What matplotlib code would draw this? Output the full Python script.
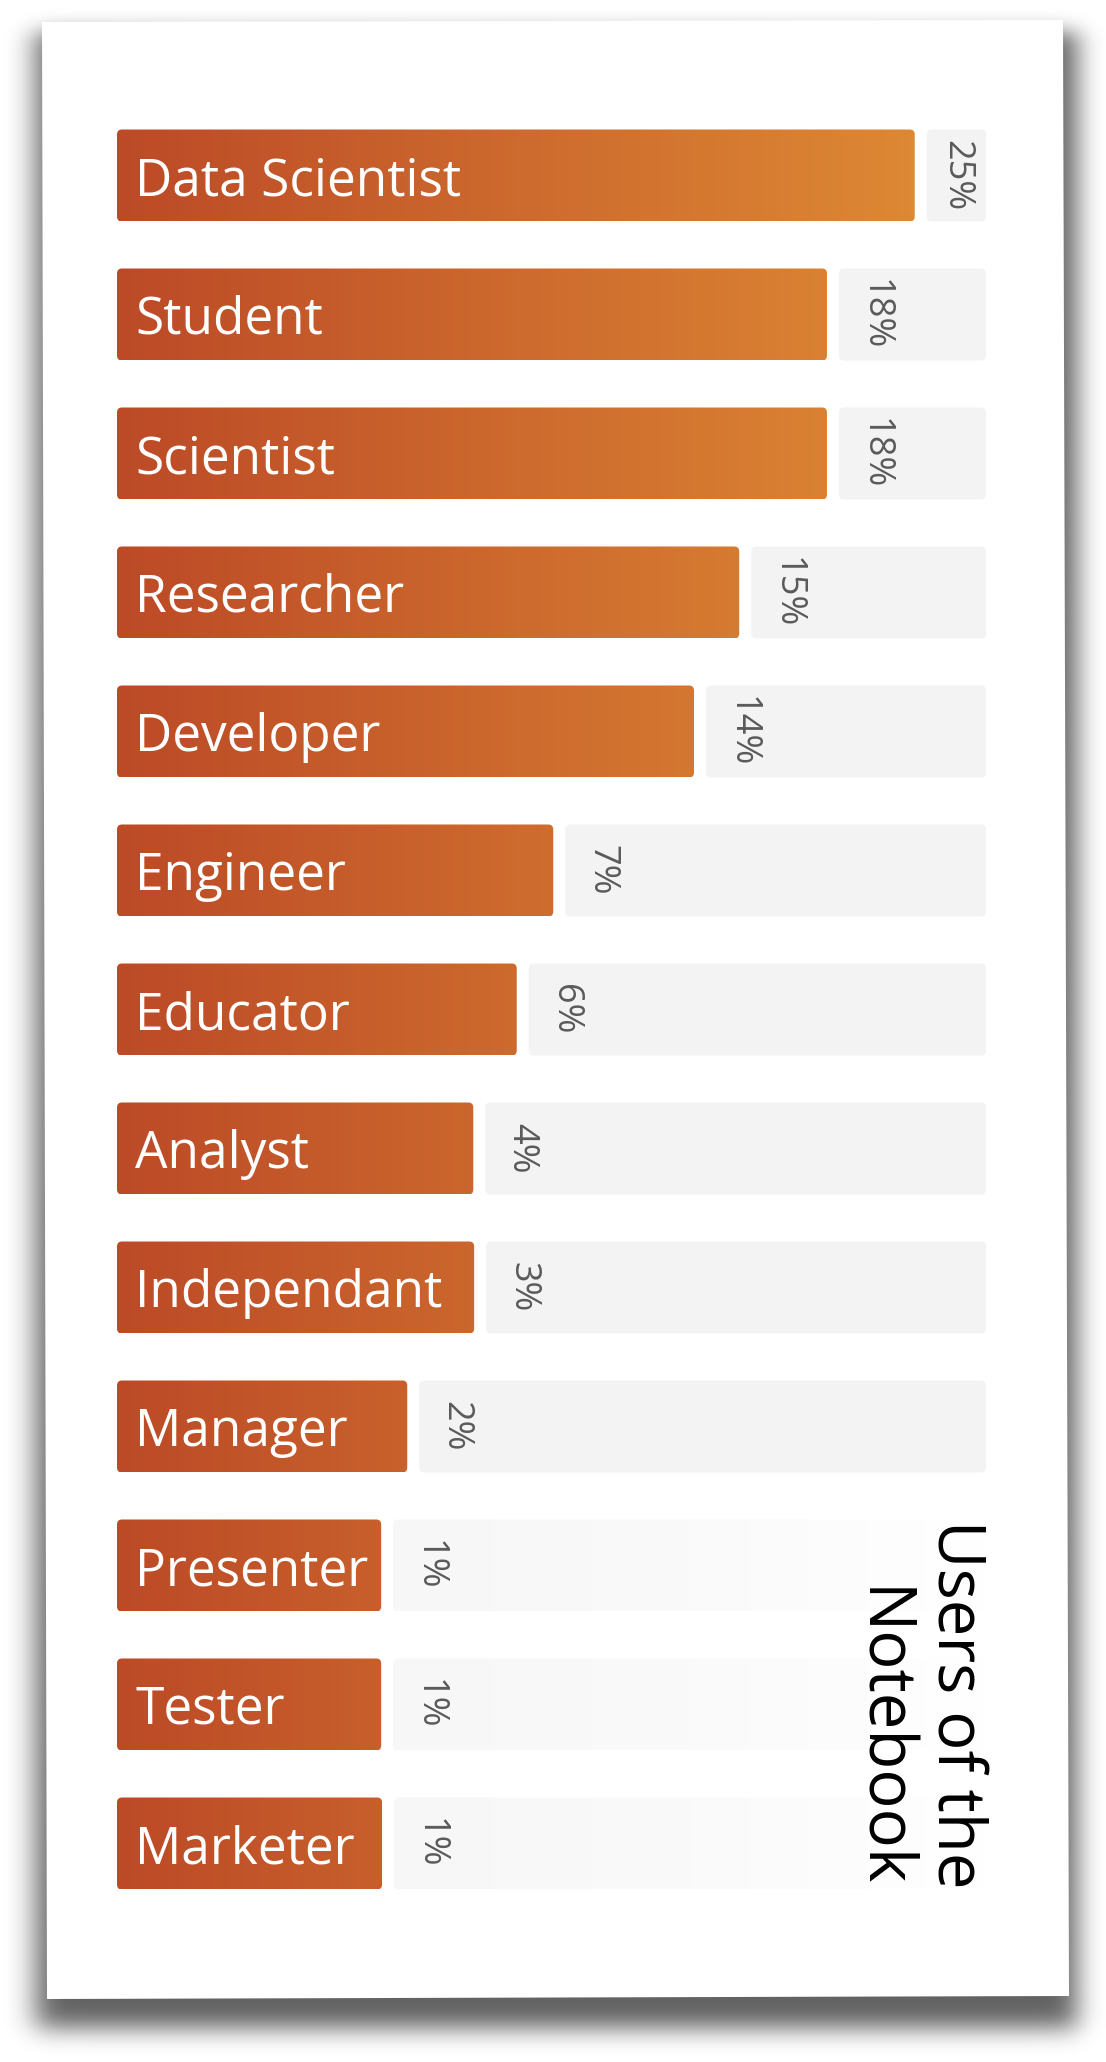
import math
import numpy as np
import matplotlib
matplotlib.use("Agg")
import matplotlib.pyplot as plt
from matplotlib.patches import FancyBboxPatch, Polygon
from matplotlib.colors import LinearSegmentedColormap

roles = ["Data Scientist", "Student", "Scientist", "Researcher", "Developer",
         "Engineer", "Educator", "Analyst", "Independant", "Manager",
         "Presenter", "Tester", "Marketer"]
share = [25, 18, 18, 15, 14, 7, 6, 4, 3, 2, 1, 1, 1]
# drawn bar length in % of the full track (bars in the source are not linear in share)
bar_len = [91.8, 81.7, 81.7, 71.6, 66.4, 50.2, 46.0, 41.0, 41.1, 33.4, 30.4, 30.4, 30.5]
title = "Users of the\nNotebook"

plt.rcParams['font.family'] = ['Open Sans', 'DejaVu Sans']

W, H = 1106, 2062
fig = plt.figure(figsize=(W / 100, H / 100), dpi=100)
fig.patch.set_facecolor("white")

# backdrop: white card with a soft drop shadow (pixel units)
bg = fig.add_axes([0, 0, 1, 1])
bg.axis("off")
erf = np.vectorize(math.erf)


def soft(n, a, b, sa, sb):
    t = np.arange(n) + 0.5
    return 0.5 * (erf((t - a) / sa) - erf((t - b) / sb))


alpha = np.outer(soft(H, 32, 2028, 14, 17), soft(W, 36, 1077, 20, 18)) * 0.62
shadow = np.zeros((H, W, 4))
shadow[..., 3] = alpha
bg.imshow(shadow, extent=[0, W, H, 0], aspect="auto", interpolation="bilinear")
bg.add_patch(Polygon([(42, 22), (1063, 20), (1069, 1996), (47, 1999)],
                     closed=True, facecolor="white", edgecolor="none"))
bg.set_xlim(0, W)
bg.set_ylim(H, 0)

# bar axes: x = % of track, y = row index
x0, x1 = 117, 986
row0, pitch = 175.5, 139
top = row0 - 0.5 * pitch
bot = row0 + (len(roles) - 0.5) * pitch
ax = fig.add_axes([x0 / W, 1 - bot / H, (x1 - x0) / W, (bot - top) / H])
ax.axis("off")

px_x = 100 / (x1 - x0)
px_y = 1 / pitch
asp = px_y / px_x
h = 92 * px_y
gap = 12 * px_x
r = 5 * px_x

cmap = LinearSegmentedColormap.from_list("rust", ["#BC4A27", "#CD6A2E", "#DD8834"])
fade = LinearSegmentedColormap.from_list("fade", ["#F7F7F7", "#FAFAFA", "#FFFFFF"])
grad = np.linspace(0, 1, 256)[None, :]
full = max(bar_len)

for i, (role, v, L) in enumerate(zip(roles, share, bar_len)):
    bar = FancyBboxPatch((0, i - h / 2), L, h,
                         boxstyle=f"round,pad=0,rounding_size={r}",
                         mutation_aspect=asp, facecolor="none", edgecolor="none")
    ax.add_patch(bar)
    im = ax.imshow(grad, cmap=cmap, extent=[0, full, i + h / 2, i - h / 2],
                   aspect="auto", interpolation="bilinear")
    im.set_clip_path(bar)

    start = L + gap
    track = FancyBboxPatch((start, i - h / 2), 100 - start, h,
                           boxstyle=f"round,pad=0,rounding_size={r}",
                           mutation_aspect=asp, facecolor="#F3F3F3",
                           edgecolor="none")
    ax.add_patch(track)
    if v <= 1:
        # faint rows fade out towards the title
        track.set_facecolor("none")
        tim = ax.imshow(grad, cmap=fade, extent=[start, 100, i + h / 2, i - h / 2],
                        aspect="auto", interpolation="bilinear")
        tim.set_clip_path(track)
    xc = min(start + 36 * px_x, (start + 100) / 2)
    ax.text(xc, i, f"{v}%", rotation=-90, ha="center", va="center",
            fontsize=26, color="#5a5a5a")
    ax.text(18 * px_x, i + 19.5 * px_y, role, color="white", fontsize=37,
            ha="left", va="baseline")

ax.set_xlim(0, 100)
ax.set_ylim(len(roles) - 0.5, -0.5)

fig.text(988 / W, 1 - 1888 / H, title, rotation=-90, ha="right", va="bottom",
         multialignment="right", fontsize=47, color="black", linespacing=1.2)

fig.savefig("out.png", dpi=100, facecolor="white")
